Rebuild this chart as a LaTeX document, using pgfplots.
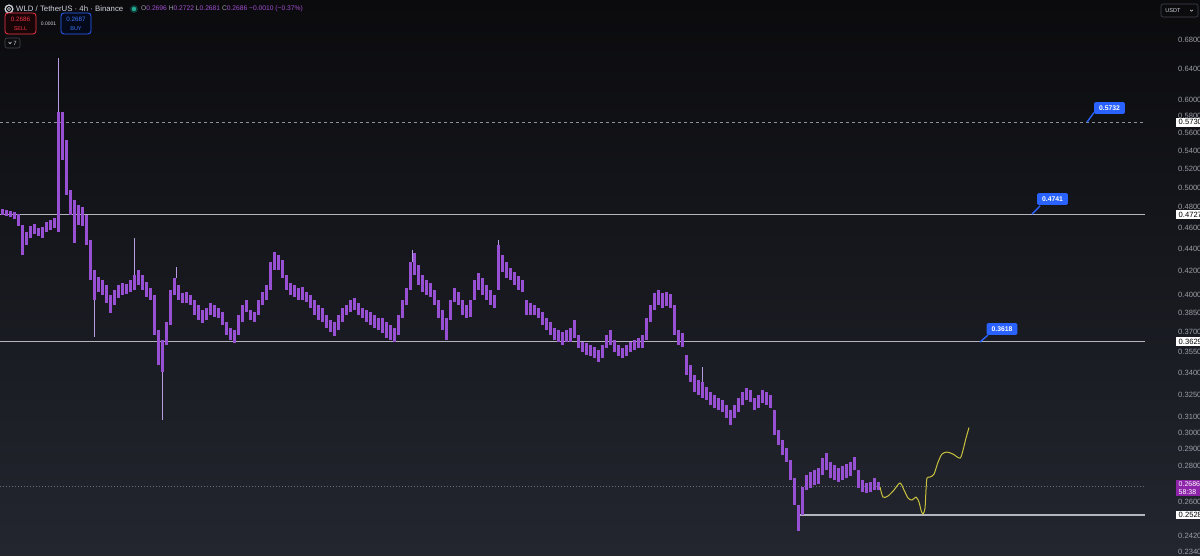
\documentclass[border=0pt]{standalone}
\usepackage{pgfplots}
\pgfplotsset{compat=1.18}
\usepackage{pgfplotstable}
\usepackage{fontspec}
\setmainfont{Liberation Sans}
\newfontfamily\dejavu{DejaVu Sans}
\definecolor{bgtop}{HTML}{0B0B0E}
\definecolor{bgbot}{HTML}{23262F}
\definecolor{candle}{HTML}{9850D2}
\definecolor{wick}{HTML}{B79CE0}
\definecolor{proj}{HTML}{C9C23E}
\definecolor{lvl}{HTML}{B2B5BE}
\definecolor{tick}{HTML}{9A9DA5}
\definecolor{cblue}{HTML}{2962FF}
\definecolor{curp}{HTML}{8E24AA}
\definecolor{hdr}{HTML}{D1D4DC}
\definecolor{val}{HTML}{A24FD0}
\definecolor{sellred}{HTML}{F23645}
\definecolor{buyblue}{HTML}{3D75FF}
\definecolor{frame}{HTML}{434651}
\definecolor{live}{HTML}{22AB94}

\pgfplotstableread{
x lo hi
2 0.4723 0.4782
6 0.4713 0.4772
10 0.4703 0.4762
14 0.4683 0.4752
18 0.4615 0.4733
22 0.4345 0.4625
26 0.4436 0.4558
30 0.4502 0.4615
34 0.4540 0.4635
38 0.4521 0.4596
42 0.4502 0.4606
46 0.4558 0.4654
50 0.4577 0.4673
54 0.4596 0.4693
58 0.4558 0.5853
62 0.5296 0.5853
66 0.4923 0.5521
70 0.4723 0.4975
74 0.4455 0.4872
78 0.4625 0.4822
82 0.4615 0.4802
86 0.4436 0.4723
90 0.4124 0.4483
94 0.3956 0.4211
98 0.4023 0.4150
102 0.3997 0.4124
106 0.3931 0.4082
110 0.3850 0.3997
114 0.3915 0.4040
118 0.3972 0.4082
122 0.3997 0.4099
126 0.4006 0.4090
130 0.4023 0.4124
134 0.4040 0.4167
138 0.4082 0.4211
142 0.4040 0.4167
146 0.3981 0.4107
150 0.3956 0.4057
154 0.3678 0.3997
158 0.3455 0.3716
162 0.3405 0.3640
166 0.3602 0.3779
170 0.3755 0.4040
174 0.3997 0.4141
178 0.3956 0.4082
182 0.3931 0.4014
186 0.3931 0.4023
190 0.3915 0.3997
194 0.3834 0.3956
198 0.3795 0.3915
202 0.3771 0.3875
206 0.3795 0.3891
210 0.3834 0.3931
214 0.3818 0.3915
218 0.3810 0.3891
222 0.3755 0.3858
226 0.3678 0.3779
230 0.3640 0.3732
234 0.3617 0.3716
238 0.3678 0.3834
242 0.3779 0.3915
246 0.3858 0.3956
250 0.3795 0.3875
254 0.3779 0.3858
258 0.3834 0.3956
262 0.3915 0.4023
266 0.3956 0.4082
270 0.4040 0.4282
274 0.4211 0.4372
278 0.4211 0.4345
282 0.4141 0.4300
286 0.4040 0.4167
290 0.3997 0.4099
294 0.3981 0.4082
298 0.3956 0.4057
302 0.3956 0.4065
306 0.3940 0.4023
310 0.3891 0.3997
314 0.3834 0.3956
318 0.3795 0.3915
322 0.3779 0.3891
326 0.3732 0.3834
330 0.3701 0.3795
334 0.3670 0.3779
338 0.3716 0.3834
342 0.3779 0.3891
346 0.3834 0.3915
350 0.3858 0.3956
354 0.3875 0.3972
358 0.3834 0.3931
362 0.3810 0.3891
366 0.3779 0.3875
370 0.3755 0.3858
374 0.3732 0.3834
378 0.3716 0.3810
382 0.3693 0.3810
386 0.3655 0.3779
390 0.3640 0.3755
394 0.3625 0.3732
398 0.3678 0.3834
402 0.3810 0.3956
406 0.3915 0.4057
410 0.4040 0.4282
414 0.4167 0.4363
418 0.4082 0.4255
422 0.4023 0.4167
426 0.3997 0.4124
430 0.3981 0.4099
434 0.3915 0.4040
438 0.3810 0.3956
442 0.3716 0.3875
446 0.3640 0.3810
450 0.3795 0.3956
454 0.3940 0.4057
458 0.3915 0.4023
462 0.3834 0.3956
466 0.3810 0.3915
470 0.3818 0.3956
474 0.3956 0.4124
478 0.4040 0.4185
482 0.3997 0.4141
486 0.3956 0.4082
490 0.3915 0.4040
494 0.3891 0.3997
498 0.4040 0.4436
502 0.4193 0.4345
506 0.4141 0.4282
510 0.4124 0.4229
514 0.4082 0.4193
518 0.4040 0.4158
522 0.4023 0.4124
526 0.3834 0.3956
530 0.3834 0.3931
534 0.3834 0.3915
538 0.3810 0.3891
542 0.3755 0.3858
546 0.3716 0.3810
550 0.3678 0.3779
554 0.3640 0.3732
558 0.3625 0.3716
562 0.3602 0.3701
566 0.3625 0.3716
570 0.3625 0.3732
574 0.3655 0.3795
578 0.3580 0.3678
582 0.3550 0.3625
586 0.3528 0.3617
590 0.3521 0.3602
594 0.3506 0.3587
598 0.3477 0.3565
602 0.3506 0.3602
606 0.3580 0.3678
610 0.3602 0.3716
614 0.3550 0.3640
618 0.3521 0.3602
622 0.3506 0.3580
626 0.3521 0.3602
630 0.3550 0.3625
634 0.3565 0.3640
638 0.3580 0.3655
642 0.3580 0.3678
646 0.3640 0.3810
650 0.3779 0.3915
654 0.3875 0.4014
658 0.3915 0.4040
662 0.3891 0.4014
666 0.3907 0.4023
670 0.3891 0.4006
674 0.3678 0.3915
678 0.3602 0.3716
682 0.3587 0.3693
686 0.3384 0.3528
690 0.3335 0.3455
694 0.3266 0.3384
698 0.3246 0.3349
702 0.3226 0.3335
706 0.3212 0.3300
710 0.3179 0.3266
714 0.3159 0.3246
718 0.3146 0.3226
722 0.3133 0.3212
726 0.3094 0.3179
730 0.3049 0.3146
734 0.3094 0.3179
738 0.3133 0.3226
742 0.3179 0.3266
746 0.3212 0.3293
750 0.3199 0.3280
754 0.3146 0.3226
758 0.3159 0.3246
762 0.3192 0.3280
766 0.3179 0.3266
770 0.3159 0.3246
774 0.2986 0.3146
778 0.2924 0.3017
782 0.2864 0.2955
786 0.2822 0.2906
790 0.2719 0.2834
794 0.2581 0.2730
798 0.2445 0.2581
802 0.2528 0.2680
806 0.2663 0.2747
810 0.2674 0.2764
814 0.2691 0.2776
818 0.2697 0.2788
822 0.2747 0.2846
826 0.2776 0.2876
830 0.2730 0.2822
834 0.2719 0.2805
838 0.2708 0.2788
842 0.2719 0.2799
846 0.2730 0.2811
850 0.2741 0.2822
854 0.2776 0.2852
858 0.2674 0.2776
862 0.2652 0.2719
866 0.2646 0.2702
870 0.2652 0.2708
874 0.2663 0.2730
878 0.2663 0.2708
}\candles

\pgfplotstableread{
x lo hi
58 0.4558 0.6550
94 0.3663 0.3956
134 0.4167 0.4502
162 0.3081 0.3405
176 0.4141 0.4237
412 0.4282 0.4390
498 0.4390 0.4483
702 0.3335 0.3441
}\wicks

\begin{document}
\begin{tikzpicture}
\shade[top color=bgtop, bottom color=bgbot] (0,0) rectangle (1200pt,555pt);
\begin{axis}[
  at={(0,0)}, anchor=south west,
  scale only axis, width=1145pt, height=555pt,
  xmin=0, xmax=1145,
  ymode=log, ymin=0.23258, ymax=0.7391,
  axis line style={draw=none},
  xtick=\empty,
  major tick length=0pt,
  ytick={0.68,0.64,0.60,0.58,0.56,0.54,0.52,0.50,0.48,0.46,0.44,0.42,0.40,0.385,0.37,0.355,0.34,0.325,0.31,0.30,0.29,0.28,0.26,0.242,0.234},
  yticklabels={0.6800,0.6400,0.6000,0.5800,0.5600,0.5400,0.5200,0.5000,0.4800,0.4600,0.4400,0.4200,0.4000,0.3850,0.3700,0.3550,0.3400,0.3250,0.3100,0.3000,0.2900,0.2800,0.2600,0.2420,0.2340},
  yticklabel pos=right,
  yticklabel style={anchor=west, xshift=33pt, inner sep=0pt, font=\fontsize{7.6}{8}\selectfont, text=tick},
  clip mode=individual,
]
% level lines
\addplot[color=lvl!80!black, line width=0.8pt, dash pattern=on 3pt off 3pt] coordinates {(0,0.5730) (1145,0.5730)};
\addplot[color=lvl, line width=1.1pt] coordinates {(0,0.4727) (1145,0.4727)};
\addplot[color=lvl, line width=1.1pt] coordinates {(0,0.3629) (1145,0.3629)};
\addplot[color=lvl!60!black, line width=0.6pt, dash pattern=on 1pt off 2pt] coordinates {(0,0.2686) (1145,0.2686)};
\addplot[color=lvl, line width=1.1pt] coordinates {(800,0.2528) (1145,0.2528)};
% candles
\addplot[draw=none, mark=none, forget plot, error bars/.cd, y dir=plus, y explicit, error mark=none,
  error bar style={draw=wick, line width=0.8pt}]
  table[x=x, y=lo, y error expr=\thisrow{hi}-\thisrow{lo}] {\wicks};
\addplot[draw=none, mark=none, forget plot, error bars/.cd, y dir=plus, y explicit, error mark=none,
  error bar style={draw=candle, line width=3pt}]
  table[x=x, y=lo, y error expr=\thisrow{hi}-\thisrow{lo}] {\candles};
% projection
\addplot[color=proj, line width=1pt, smooth, tension=0.5] coordinates {
(880,0.2680) (883,0.2624) (888,0.2630) (894,0.2663) (900,0.2702) (904,0.2663)
(908,0.2619) (912,0.2608) (916,0.2624) (919,0.2597) (921,0.2554) (923,0.2533)
(925,0.2565) (926,0.2663) (927,0.2730) (930,0.2736) (934,0.2753) (938,0.2822)
(942,0.2870) (947,0.2882) (953,0.2870) (960,0.2846) (963,0.2894) (966,0.2967) (969,0.3033)};
% callouts
\draw[cblue, line width=1.4pt] (axis cs:1094,0.5846) -- (axis cs:1087,0.5730);
\node[fill=cblue, text=white, rounded corners=1.5pt, font=\bfseries\fontsize{6.8}{8}\selectfont, inner xsep=5pt, inner ysep=3.5pt] at (axis cs:1109.5,0.5902) {0.5732};
\draw[cblue, line width=1.4pt] (axis cs:1040,0.4812) -- (axis cs:1032,0.4730);
\node[fill=cblue, text=white, rounded corners=1.5pt, font=\bfseries\fontsize{6.8}{8}\selectfont, inner xsep=5pt, inner ysep=3.5pt] at (axis cs:1052.5,0.4882) {0.4741};
\draw[cblue, line width=1.4pt] (axis cs:988,0.3678) -- (axis cs:980,0.3625);
\node[fill=cblue, text=white, rounded corners=1.5pt, font=\bfseries\fontsize{6.8}{8}\selectfont, inner xsep=5pt, inner ysep=3.5pt] at (axis cs:1002,0.3724) {0.3618};
% price scale labels
\node[fill=white, text=black, anchor=west, inner xsep=2.5pt, inner ysep=1.8pt, font=\fontsize{7.6}{8}\selectfont] at (axis cs:1176,0.5730) {0.5730};
\node[fill=white, text=black, anchor=west, inner xsep=2.5pt, inner ysep=1.8pt, font=\fontsize{7.6}{8}\selectfont] at (axis cs:1176,0.4727) {0.4727};
\node[fill=white, text=black, anchor=west, inner xsep=2.5pt, inner ysep=1.8pt, font=\fontsize{7.6}{8}\selectfont] at (axis cs:1176,0.3629) {0.3629};
\node[fill=white, text=black, anchor=west, inner xsep=2.5pt, inner ysep=1.8pt, font=\fontsize{7.6}{8}\selectfont] at (axis cs:1176,0.2528) {0.2528};
\node[fill=curp, text=white, anchor=west, align=left, inner xsep=2.5pt, inner ysep=1.5pt, font=\fontsize{7}{8.2}\selectfont] at (axis cs:1176,0.2672) {0.2686\\58:38};
\end{axis}
% header
\fill[hdr] (9pt,546pt) circle (4.6pt);
\fill[black] (9pt,546pt) circle (3pt);
\draw[hdr, line width=0.7pt] (9pt,546pt) circle (1.6pt);
\node[anchor=west, inner sep=0pt, text=hdr, font=\fontsize{7.8}{9}\selectfont] at (16pt,546pt) {WLD / TetherUS · 4h · Binance};
\fill[live, opacity=0.3] (134pt,546pt) circle (4pt);
\fill[live] (134pt,546pt) circle (2.2pt);
\node[anchor=west, inner sep=0pt, text=tick, font=\fontsize{6.7}{8}\selectfont] at (141pt,546pt) {O\textcolor{val}{0.2696} H\textcolor{val}{0.2722} L\textcolor{val}{0.2681} C\textcolor{val}{0.2686} \textcolor{val}{−0.0010 (−0.37\%)}};
\draw[sellred, line width=0.8pt, rounded corners=3pt, fill=sellred!10!black] (5pt,521pt) rectangle (36pt,542pt);
\node[text=sellred, font=\fontsize{6.3}{7}\selectfont, inner sep=0pt] at (20.5pt,535.5pt) {0.2686};
\node[text=sellred, font=\fontsize{5.5}{6}\selectfont, inner sep=0pt] at (20.5pt,526.5pt) {SELL};
\node[text=hdr, font=\fontsize{5}{6}\selectfont, inner sep=0pt] at (48.5pt,531.5pt) {0.0001};
\draw[cblue, line width=0.8pt, rounded corners=3pt, fill=cblue!10!black] (61pt,521pt) rectangle (91pt,542pt);
\node[text=buyblue, font=\fontsize{6.3}{7}\selectfont, inner sep=0pt] at (76pt,535.5pt) {0.2687};
\node[text=buyblue, font=\fontsize{5.5}{6}\selectfont, inner sep=0pt] at (76pt,526.5pt) {BUY};
\draw[frame, line width=0.6pt, rounded corners=2pt] (5pt,507pt) rectangle (20pt,517pt);
\draw[hdr, line width=0.6pt] (8.5pt,513pt) -- (10pt,511.3pt) -- (11.5pt,513pt);
\node[text=hdr, font=\fontsize{6}{7}\selectfont, inner sep=0pt] at (15pt,512pt) {7};
\draw[frame, line width=0.6pt, rounded corners=2pt] (1161pt,538pt) rectangle (1198pt,551pt);
\node[text=hdr, font=\fontsize{5.6}{6}\selectfont, inner sep=0pt] at (1173pt,544.5pt) {USDT};
\draw[hdr, line width=0.5pt] (1190pt,545.2pt) -- (1191.5pt,543.7pt) -- (1193pt,545.2pt);
\pgfresetboundingbox
\useasboundingbox (0,0) rectangle (1200pt,555pt);
\end{tikzpicture}
\end{document}
